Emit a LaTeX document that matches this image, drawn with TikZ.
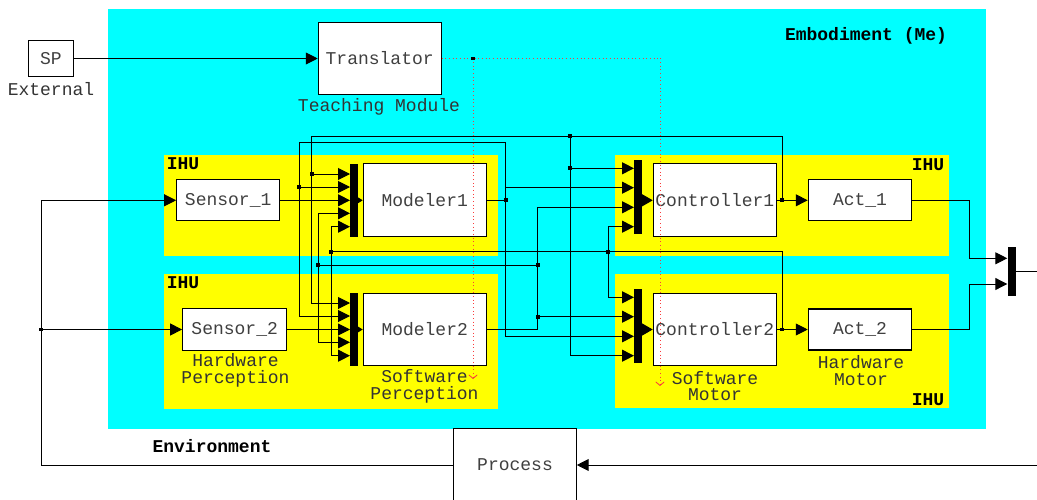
\documentclass[tikz,border=0pt]{standalone}
\usepackage{fontspec}
\setmainfont{Liberation Mono}
\usetikzlibrary{positioning,calc}
\usetikzlibrary{arrows.meta}
\definecolor{BodyCyan}{RGB}{0,255,255}
\definecolor{IhuYellow}{RGB}{255,255,0}
\definecolor{ProbeRed}{RGB}{250,60,60}
\tikzset{
	blk/.style={draw=black,fill=white,line width=0.8pt,inner sep=0pt,font=\fontsize{12.8}{12}\selectfont,text=black!75},
	bar/.style={fill=black,inner sep=0pt,minimum width=0.2cm},
	wire/.style={draw=black,line width=0.7pt},
	sig/.style={wire,-{Triangle[length=8.5pt,width=8.5pt]}},
	tap/.style={fill=black,inner sep=0pt,minimum size=2.8pt},
	note/.style={font=\fontsize{12.8}{12}\selectfont,text=black!80,align=center},
	tag/.style={font=\fontsize{12.8}{12}\selectfont\bfseries},
	probe/.style={draw=ProbeRed,dotted,line width=0.6pt},
}

\begin{document}
\begin{tikzpicture}[x=0.025cm,y=-0.025cm]
					\useasboundingbox (0,0) rectangle (1037,499);
					\clip (0,0) rectangle (1037,499);
					\fill[BodyCyan] (108,9) rectangle (986,429);
					\fill[IhuYellow] (164,155) rectangle (498,256);
					\fill[IhuYellow] (164,274) rectangle (498,409);
					\fill[IhuYellow] (615,155) rectangle (949,256);
					\fill[IhuYellow] (615,274) rectangle (949,408);
					\node[tag] (embLbl) at (866,36) {Embodiment (Me)};
					\node[tag] (envLbl) at (212,446) {Environment};
					\node[tag] (ihuA) at (183,164) {IHU};
					\node[tag] (ihuB) at (183,283) {IHU};
					\node[tag] (ihuC) at (928,165) {IHU};
					\node[tag] (ihuD) at (928,400) {IHU};
					\node[note] (extLbl) at (51,89) {External};
					\node[note] (teachLbl) at (379,107) {Teaching Module};
					\node[note] (hpLbl) at (235.5,370.5) {Hardware\\Perception};
					\node[note] (swpLbl) at (424.5,386) {Software\\Perception};
					\node[note] (swmLbl) at (715,386) {Software\\Motor};
					\node[note] (hmLbl) at (861,370.5) {Hardware\\Motor};
					\node[blk,minimum width=1.135cm,minimum height=0.91cm] (sp) at (51,58.5) {SP};
					\node[blk,minimum width=3.07cm,minimum height=1.81cm] (trans) at (379.7,58.5) {Translator};
					\node[blk,minimum width=2.575cm,minimum height=1.025cm] (sens1) at (228.2,200.3) {Sensor\_1};
					\node[blk,minimum width=2.6cm,minimum height=1.03cm] (sens2) at (234.7,329.5) {Sensor\_2};
					\node[blk,minimum width=3.07cm,minimum height=1.82cm] (model1) at (424.7,200.3) {Modeler1};
					\node[blk,minimum width=3.07cm,minimum height=1.82cm] (model2) at (424.7,329.5) {Modeler2};
					\node[blk,minimum width=3.075cm,minimum height=1.82cm] (ctrl1) at (714.8,200.3) {Controller1};
					\node[blk,minimum width=3.075cm,minimum height=1.82cm] (ctrl2) at (714.8,329.5) {Controller2};
					\node[blk,minimum width=2.585cm,minimum height=1.025cm] (act1) at (860,200.3) {Act\_1};
					\node[blk,minimum width=2.585cm,minimum height=1.025cm] (act2) at (860,329.5) {Act\_2};
					\node[blk,minimum width=3.06cm,minimum height=1.835cm] (proc) at (515,465) {Process};
					\node[bar,minimum height=1.825cm] (muxA) at (354,200.3) {};
					\node[bar,minimum height=1.825cm] (muxB) at (354,329.5) {};
					\node[bar,minimum height=1.86cm] (muxC) at (638,197) {};
					\node[bar,minimum height=1.86cm] (muxD) at (638,326) {};
					\node[bar,minimum height=1.23cm] (muxO) at (1011.5,271.3) {};
					\foreach \k/\yy in {1/174,2/187,3/200.3,4/213.3,5/226.7} {
						\coordinate (inA\k) at (350,\yy);
					}
					\foreach \k/\yy in {1/303,2/316,3/329.5,4/342.3,5/355.7} {
						\coordinate (inB\k) at (350,\yy);
					}
					\foreach \k/\yy in {1/168.3,2/187.7,3/207.3,4/226.7} {
						\coordinate (inC\k) at (634,\yy);
					}
					\foreach \k/\yy in {1/297.3,2/316.7,3/336.3,4/355.7} {
						\coordinate (inD\k) at (634,\yy);
					}
					\coordinate (inO1) at (1007.3,258.3);
					\coordinate (inO2) at (1007.3,284);
					\coordinate (sysout) at (1040,271.3);
					\coordinate (envin) at (1040,465);
					\coordinate (envL) at (41,465);
					\coordinate (j1) at (782,200.3);
					\coordinate (j2) at (782,329.5);
					\coordinate (jm1) at (505.7,200.3);
					\coordinate (jm2) at (537.7,265);
					\coordinate (jc2) at (608.3,251.7);
					\coordinate (busA) at (311.7,136);
					\coordinate (busB) at (570,136);
					\coordinate (busC) at (299.3,142.7);
					\coordinate (busD) at (318.3,265);
					\coordinate (busE) at (331,251.7);
					\coordinate (pj) at (473,58.5);
					\coordinate (pr) at (660,58.5);
					\coordinate (pe1) at (473,379);
					\coordinate (pe2) at (660,386);
					\draw[sig] (sp.east) -- (trans.west);
					\draw[sig] (envin) -- (proc.east);
					\draw[sig] (proc.west) -- (envL) |- (sens1.west);
					\draw[sig] (envL |- sens2.west) -- (sens2.west);
					\draw[sig] (sens1.east) -- (inA3);
					\draw[sig] (sens2.east) -- (inB3);
					\draw[wire,-{Triangle[length=3.8pt,width=4.5pt]}] (muxA.east) -- (model1.west);
					\draw[wire,-{Triangle[length=3.8pt,width=4.5pt]}] (muxB.east) -- (model2.west);
					\draw[wire,-{Triangle[length=8pt,width=9pt]}] (muxC.east |- ctrl1.west) -- (ctrl1.west);
					\draw[wire,-{Triangle[length=8pt,width=9pt]}] (muxD.east |- ctrl2.west) -- (ctrl2.west);
					\draw[wire] (ctrl1.east) -- (j1);
					\draw[sig] (j1) -- (act1.west);
					\draw[sig] (j1) |- (busA) |- (inB1);
					\draw[sig] (busA |- inA1) -- (inA1);
					\draw[sig] (busB) |- (inD4);
					\draw[sig] (busB |- inC1) -- (inC1);
					\draw[wire] (model1.east) -- (jm1);
					\draw[sig] (jm1) |- (busC) |- (inB2);
					\draw[sig] (busC |- inA2) -- (inA2);
					\draw[sig] (jm1) |- (inC2);
					\draw[sig] (jm1) |- (inD3);
					\draw[wire] (model2.east) -| (jm2);
					\draw[sig] (jm2) -- (busD) |- (inA4);
					\draw[sig] (busD) |- (inB4);
					\draw[sig] (jm2) |- (inC3);
					\draw[sig] (jm2 |- inD2) -- (inD2);
					\draw[wire] (ctrl2.east) -- (j2);
					\draw[sig] (j2) -- (act2.west);
					\draw[sig] (j2) |- (busE) |- (inA5);
					\draw[sig] (busE) |- (inB5);
					\draw[sig] (jc2) |- (inC4);
					\draw[sig] (jc2) |- (inD1);
					\draw[sig] (act1.east) -- (969.3,200.3) |- (inO1);
					\draw[sig] (act2.east) -- (969.3,329.5) |- (inO2);
					\draw[wire] (muxO.east) -- (sysout);
					\draw[probe] (trans.east) -- (pr);
					\draw[probe,-{Straight Barb[length=2.5pt,width=6pt]}] (pr) -- (pe2);
					\draw[probe,-{Straight Barb[length=2.5pt,width=6pt]}] (pj) -- (pe1);
					\foreach \p [count=\i] in {j1,j2,jm1,jm2,jc2,busB,busD,busE,pj,busA |- inA1,busB |- inC1,busC |- inA2,jm2 |- inD2,envL |- sens2.west} {
						\node[tap] (tap\i) at (\p) {};
					}
				\end{tikzpicture}
\end{document}
